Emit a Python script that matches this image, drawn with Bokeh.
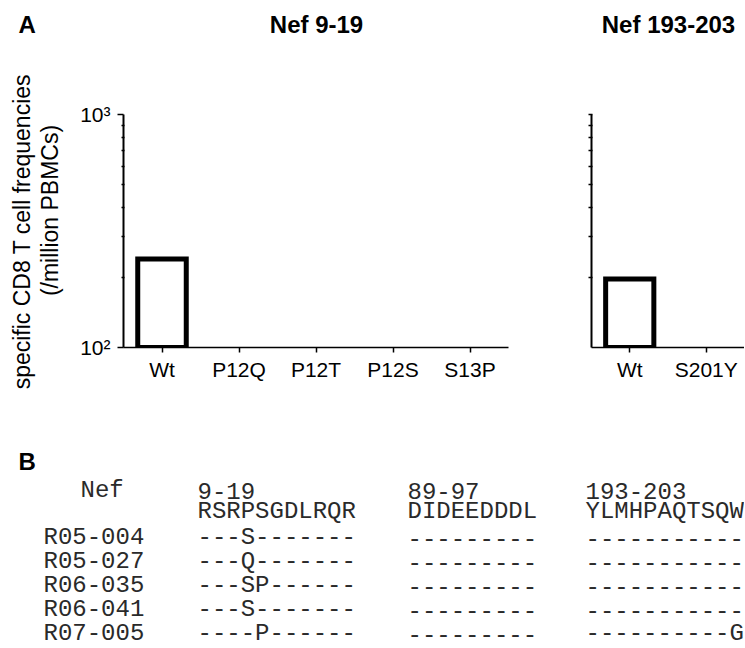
import numpy as np
from bokeh.plotting import figure
from bokeh.models import Label, Range1d, FactorRange, ColumnDataSource, FixedTicker
from bokeh.layouts import column, row
from bokeh.embed import file_html
from bokeh.resources import INLINE
from bokeh.core.properties import value

# ---------------- data ----------------
panel_letter_a = "A"
panel_letter_b = "B"
panel1_title = "Nef 9-19"
panel1_cats = ["Wt", "P12Q", "P12T", "P12S", "S13P"]
panel1_vals = [240, np.nan, np.nan, np.nan, np.nan]
panel2_title = "Nef 193-203"
panel2_cats = ["Wt", "S201Y"]
panel2_vals = [197, np.nan]
y_label_line1 = "specific CD8 T cell frequencies"
y_label_line2 = "(/million PBMCs)"
y_major_ticks = [100, 1000]
y_minor_ticks = [200, 300, 400, 500, 600, 700, 800, 900]
y_tick_labels = {100: "10\u00b2", 1000: "10\u00b3"}
y_min, y_max = 100, 1000

table_protein = "Nef"
epitopes = ["9-19", "89-97", "193-203"]
consensus = ["RSRPSGDLRQR", "DIDEEDDDL", "YLMHPAQTSQW"]
patients = ["R05-004", "R05-027", "R06-035", "R06-041", "R07-005"]
seq_9_19 = ["---S-------", "---Q-------", "---SP------", "---S-------", "----P------"]
seq_89_97 = ["---------", "---------", "---------", "---------", "---------"]
seq_193_203 = ["-----------", "-----------", "-----------", "-----------", "----------G"]

SANS = "Liberation Sans"
MONO = "Liberation Mono"
TOTAL_W = 744
HEAD_H = 50
MID_H = 370
TAB_H = 228
YLAB_W = 64


def no_frame_align(p):
    try:
        p.frame_align = False
        return True
    except Exception:
        return False


def blank_canvas(w, h):
    p = figure(width=w, height=h, x_range=Range1d(0, w), y_range=Range1d(0, h),
               min_border=0, toolbar_location=None, output_backend="svg")
    p.axis.visible = False
    p.xgrid.visible = False
    p.ygrid.visible = False
    p.outline_line_color = None
    p.background_fill_color = "white"
    p.border_fill_color = "white"
    return p


def make_panel(cats, vals, width, bl, br, show_ylabels):
    p = figure(x_range=FactorRange(factors=cats), y_range=Range1d(y_min, y_max),
               y_axis_type="log", width=width, height=MID_H,
               min_border_left=bl, min_border_right=br,
               min_border_top=64, min_border_bottom=73,
               toolbar_location=None, output_backend="svg")
    src = ColumnDataSource(dict(x=cats, top=vals))
    p.vbar(x="x", top="top", bottom=y_min, width=0.63, source=src,
           fill_color="white", line_color="black", line_width=5,
           line_join="miter")
    p.xgrid.visible = False
    p.ygrid.visible = False
    p.outline_line_color = None
    p.background_fill_color = "white"
    p.border_fill_color = "white"

    xa = p.xaxis[0]
    xa.axis_line_width = 1.5
    xa.axis_line_color = "black"
    xa.major_tick_out = 5
    xa.major_tick_in = 0
    xa.major_tick_line_width = 1.5
    xa.major_label_text_font = SANS
    xa.major_label_text_font_size = "21px"
    xa.major_label_text_color = "black"
    xa.major_label_standoff = 5

    ya = p.yaxis[0]
    ya.axis_line_width = 2
    ya.axis_line_color = "black"
    ya.major_tick_out = 6
    ya.major_tick_in = 0
    ya.major_tick_line_width = 1.5
    ya.minor_tick_out = 2
    ya.minor_tick_in = 1
    ya.minor_tick_line_width = 1.5
    if show_ylabels:
        ya.ticker = FixedTicker(ticks=y_major_ticks, minor_ticks=y_minor_ticks)
        ya.major_label_overrides = y_tick_labels
        ya.major_label_text_font = SANS
        ya.major_label_text_font_size = "21px"
        ya.major_label_text_color = "black"
        ya.major_label_standoff = 7
    else:
        ya.ticker = FixedTicker(ticks=[], minor_ticks=y_minor_ticks + [y_max])
        ya.minor_tick_out = 3
    return p


# ---------------- header strip (panel letter + panel titles) ----------------
head = blank_canvas(TOTAL_W, HEAD_H)
for txt, x, align in [(panel_letter_a, 18, "left"),
                      (panel1_title, 316, "center"),
                      (panel2_title, 668, "center")]:
    head.add_layout(Label(x=x, y=HEAD_H - 24, text=txt, text_font=SANS,
                          text_font_style="bold", text_font_size="24px",
                          text_color="black",
                          text_baseline="middle", text_align=align))

# ---------------- bar panels ----------------
p1 = make_panel(panel1_cats, panel1_vals, 575 - YLAB_W, 123 - YLAB_W, 67, True)
p2 = make_panel(panel2_cats, panel2_vals, TOTAL_W - 575, 16, 0, False)

# ---------------- y-axis title strip ----------------
ylab = blank_canvas(YLAB_W, MID_H)
if no_frame_align(ylab):
    ylab.add_layout(Label(x=21, y=MID_H - 181, text=y_label_line1, text_font=SANS,
                          angle=np.pi / 2, text_font_size="23px", text_color="black",
                          text_baseline="middle", text_align="center"))
    ylab.add_layout(Label(x=49, y=MID_H - 160, text=y_label_line2, text_font=SANS,
                          angle=np.pi / 2, text_font_size="23px", text_color="black",
                          text_baseline="middle", text_align="center"))
else:
    p1.yaxis.axis_label = y_label_line1 + "\n" + y_label_line2
    p1.yaxis.axis_label_text_font = SANS
    p1.yaxis.axis_label_text_font_style = "normal"
    p1.yaxis.axis_label_text_font_size = "23px"
    p1.yaxis.axis_label_text_color = "black"

# ---------------- table (B) ----------------
p3 = blank_canvas(TOTAL_W, TAB_H)
label_x, nef_x = 43, 80
block_x = [197, 407, 585]
header_y, consensus_y, first_row_y, row_step = 70, 91, 117, 24


def ty(rel):
    return TAB_H - rel


xs, ys, texts = [nef_x], [ty(header_y)], [table_protein]
for bx, ep, cons in zip(block_x, epitopes, consensus):
    xs += [bx, bx]
    ys += [ty(header_y), ty(consensus_y)]
    texts += [ep, cons]
for i, pat in enumerate(patients):
    yy = ty(first_row_y + i * row_step)
    xs.append(label_x); ys.append(yy); texts.append(pat)
    for bx, seqs in zip(block_x, [seq_9_19, seq_89_97, seq_193_203]):
        xs.append(bx); ys.append(yy); texts.append(seqs[i])

p3.text(x=xs, y=ys, text=texts, text_font=value(MONO), text_font_size="24px",
        text_baseline="middle", text_align="left", text_color="#2a2a2a")
p3.add_layout(Label(x=18, y=ty(41), text=panel_letter_b, text_font=SANS,
                    text_font_style="bold", text_font_size="24px",
                    text_color="black",
                    text_baseline="middle", text_align="left"))

layout = column(head, row(ylab, p1, p2), p3)
open("out.html", "w").write(file_html(layout, INLINE))
